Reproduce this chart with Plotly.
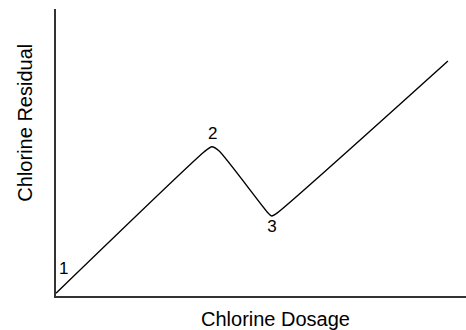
import plotly.graph_objects as go

# Breakpoint chlorination curve: residual vs. dosage (arbitrary units)
dosage = [0.0, 36.1, 38.0, 39.8, 51.5, 52.6, 53.9, 95.6]
residual = [1.0, 50.2, 52.0, 50.5, 29.3, 27.9, 28.9, 81.9]

# Numbered stage markers along the curve
stage_labels = ["1", "2", "3"]
stage_x = [1.9, 38.2, 52.7]
stage_y = [9.1, 56.2, 23.7]

FONT = "Liberation Sans, Arial, Helvetica, sans-serif"

fig = go.Figure()
fig.add_trace(go.Scatter(
    x=dosage, y=residual, mode="lines",
    line=dict(color="black", width=1.4, shape="spline", smoothing=0.6),
    hoverinfo="skip", showlegend=False,
))
fig.add_trace(go.Scatter(
    x=stage_x, y=stage_y, mode="text", text=stage_labels,
    textfont=dict(family=FONT, size=17, color="black"),
    hoverinfo="skip", showlegend=False,
))

axis_common = dict(
    showgrid=False, zeroline=False, showticklabels=False, ticks="",
    showline=True, linecolor="#333333", linewidth=2, range=[0, 100],
    fixedrange=True,
)
fig.update_xaxes(**axis_common)
fig.update_yaxes(**axis_common)

fig.add_annotation(
    text="Chlorine Dosage", xref="paper", yref="paper", x=0.535, y=0,
    yshift=-23, showarrow=False, xanchor="center", yanchor="middle",
    font=dict(family=FONT, size=20, color="black"),
)
fig.add_annotation(
    text="Chlorine Residual", xref="paper", yref="paper", x=0, y=0.604,
    xshift=-31, showarrow=False, textangle=-90, xanchor="center",
    yanchor="middle", font=dict(family=FONT, size=20, color="black"),
)

fig.update_layout(
    width=466, height=330,
    margin=dict(l=56, r=0, t=9, b=34),
    paper_bgcolor="white", plot_bgcolor="white",
)

fig.write_html("out.html")
